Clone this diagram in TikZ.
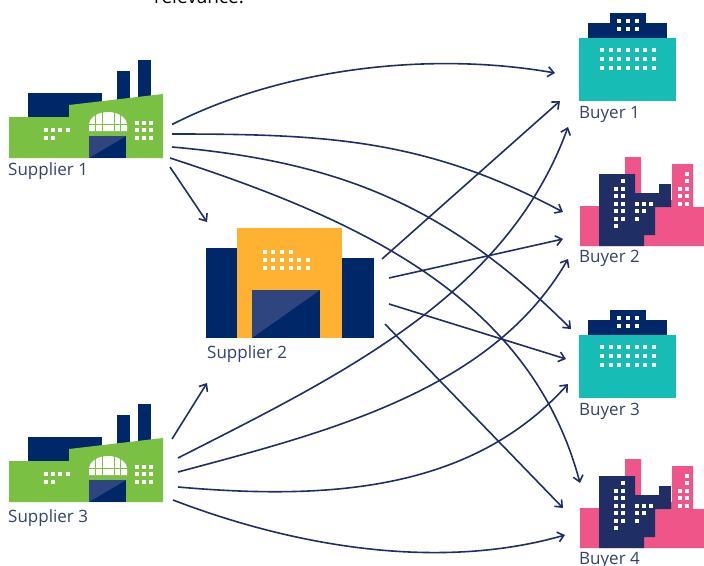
\documentclass[tikz,border=0pt]{standalone}
\usepackage{fontspec}
\setmainfont{Open Sans}
\usetikzlibrary{arrows.meta}
\definecolor{leaf}{HTML}{7AC143}
\definecolor{navy}{HTML}{002868}
\definecolor{dusk}{HTML}{2F4580}
\definecolor{amber}{HTML}{FFB132}
\definecolor{teal}{HTML}{17BCB5}
\definecolor{rose}{HTML}{F0558A}
\definecolor{ink}{HTML}{1F2F66}
\definecolor{caption}{HTML}{33426F}
\tikzset{
	dot/.style={fill=white,minimum size=#1,inner sep=0pt,outer sep=0pt,draw=none,rectangle},
	lbl/.style={anchor=base west,inner sep=0pt,text=caption,font=\fontsize{17}{17}\selectfont},
	link/.style={draw=ink,line width=1.6pt,-{Straight Barb[length=6pt,width=10pt]}},
	factory/.pic={
		\fill[navy] (28,93) rectangle (102,118);
		\fill[navy] (117,71) rectangle (130,102);
		\fill[navy] (138,60) rectangle (151,100);
		\fill[leaf] (9,117) -- (69,117) -- (69,105) -- (163,94) -- (163,158) -- (9,158) -- cycle;
		\fill[navy] (89,136) rectangle (126,158);
		\fill[dusk] (89,158) -- (89,136) -- (126,136) -- cycle;
		% arched window
		\fill[white] (89,125) arc[start angle=180,end angle=360,x radius=19,y radius=13] -- (127,131) -- (89,131) -- cycle;
		\foreach \x in {95.5,102,114,120.5} \draw[leaf,line width=.8pt] (\x,110) -- (\x,131);
		\draw[leaf,line width=.8pt] (88,124.5) -- (128,124.5);
		\foreach \x/\y in {46/130,53/130,60/130,68/130,46/138,53/138,137/123,144/123,151/123,137/130,144/130,151/130,137/138,144/138,151/138}
			\node[dot=3.6pt] at (\x,\y) {};
	},
	depot/.pic={
		\fill[navy] (206,248) rectangle (238,338);
		\fill[navy] (342,258) rectangle (374,338);
		\fill[amber] (237,228) rectangle (342,338);
		\fill[navy] (252,290) rectangle (320,338);
		\fill[dusk] (252,338) -- (252,290) -- (320,290) -- cycle;
		\foreach \x in {265,273,282,291} \node[dot=4.5pt] at (\x,252) {};
		\foreach \y in {260,268}
			\foreach \x in {265,273,282,291,299,308} \node[dot=4.5pt] at (\x,\y) {};
	},
	office/.pic={
		\fill[navy] (610,13) rectangle (646,24);
		\fill[navy] (588,23) rectangle (667,39);
		\fill[teal] (579,38) rectangle (676,101);
		\foreach \y in {21,29}
			\foreach \x in {619,628,637} \node[dot=4.5pt] at (\x,\y) {};
		\foreach \y in {50,59,68}
			\foreach \x in {602,611,619,628,637,645,654} \node[dot=4.5pt] at (\x,\y) {};
	},
	city/.pic={
		\fill[rose] (580,206) -- (625,206) -- (625,157) -- (641,157) -- (641,200) -- (672,200) -- (672,164) -- (693,164) -- (693,207) -- (704,207) -- (704,246) -- (580,246) -- cycle;
		\fill[ink] (599,174) -- (635,174) -- (635,193) -- (659,193) -- (659,184) -- (671,184) -- (671,207) -- (655,207) -- (655,235) -- (644,235) -- (644,246) -- (599,246) -- cycle;
		\foreach \x/\y in {616/189,616/196,616/204,616/211,616/219,616/226,623/181,623/189,623/196,623/204,623/211,623/219,637/204,644/204,651/204,637/211,644/211,637/219,687/174,687/181,687/189,687/196,687/204,680/189,680/196,680/204}
			\node[dot=3.6pt] at (\x,\y) {};
	}
}
\begin{document}
\begin{tikzpicture}[x=1pt,y=-1pt]
	\useasboundingbox (0,0) rectangle (704,565);
	\clip (0,0) rectangle (704,565);
	\node[anchor=base west,inner sep=0pt,font=\fontsize{19}{19}\selectfont] (head) at (154,3) {relevance.};
	%%%%%%%%%%%%%%%
	\pic at (0,0) {factory};
	\pic at (0,344) {factory};
	\pic at (0,0) {depot};
	\pic at (0,0) {office};
	\pic at (0,297) {office};
	\pic at (0,0) {city};
	\pic at (0,302) {city};
	%%%%%%%%%%%%%%%
	\node[lbl] (sup1) at (8,175) {Supplier 1};
	\node[lbl] (sup2) at (207,358) {Supplier 2};
	\node[lbl] (sup3) at (8,522) {Supplier 3};
	\node[lbl] (buy1) at (579,118.5) {Buyer 1};
	\node[lbl] (buy2) at (579,262) {Buyer 2};
	\node[lbl] (buy3) at (579,415.5) {Buyer 3};
	\node[lbl] (buy4) at (579,564) {Buyer 4};
	%%%%%%%%%%%%%%%
	\foreach \name/\x/\y in {a1/172/124.5,a2/172/134,a3/172/147,a4/170/158,a5/170/167,
		b1/382/259,b2/389/278,b3/389/304,b4/385/324,
		c1/172/439,c2/178/458,c3/178/472,c4/178/487,c5/173/500,
		d1/555/73,d2/563/212,d3/571/329,d4/580/483,d5/207/222,
		e1/560/101,e2/563/239,e3/566/359,e4/563/508,
		f1/207/383,f2/568/127,f3/568/259,f4/568/384,f5/565/535}
		\coordinate (\name) at (\x,\y);
	%%%%%%%%%%%%%%%
	\draw[link] (a1) to[out=27,in=170,looseness=.83] (d1);
	\draw[link] (a2) to[out=0,in=152] (d2);
	\draw[link] (a3) to[out=-5,in=135] (d3);
	\draw[link] (a4) to[out=-18,in=105,looseness=.95] (d4);
	\draw[link] (a5) -- (d5);
	\draw[link] (b1) -- (e1);
	\draw[link] (b2) -- (e2);
	\draw[link] (b3) -- (e3);
	\draw[link] (b4) -- (e4);
	\draw[link] (c1) -- (f1);
	\draw[link] (c2) to[out=27,in=-110,looseness=.9] (f2);
	\draw[link] (c3) to[out=15,in=-120,looseness=.88] (f3);
	\draw[link] (c4) to[out=-5,in=-132,looseness=.93] (f4);
	\draw[link] (c5) to[out=-21,in=-164,looseness=.85] (f5);
\end{tikzpicture}
\end{document}
